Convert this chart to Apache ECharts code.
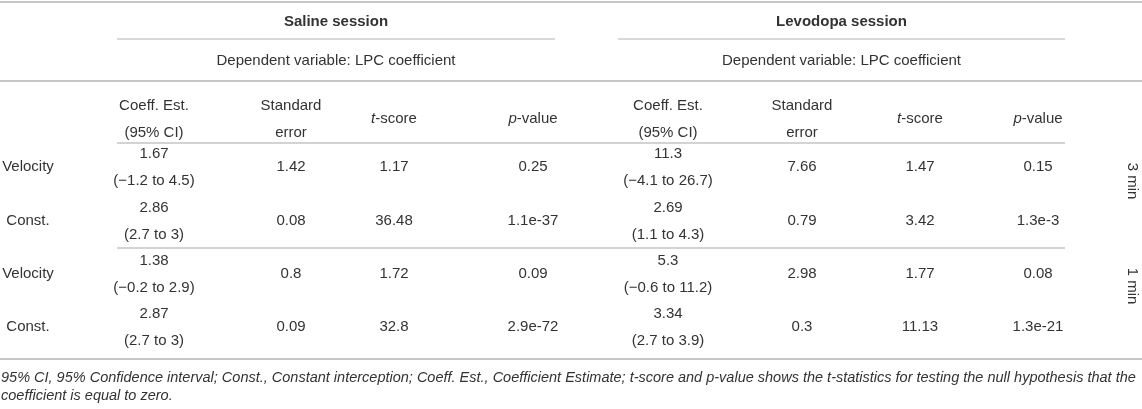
<!DOCTYPE html>
<html>
<head>
    <meta charset="utf-8">
    <title>LPC coefficient regression table</title>
    <script src="https://cdn.jsdelivr.net/npm/echarts@6/dist/echarts.min.js"></script>
    <style>
        body { margin: 0; background: #fff; }
    </style>
</head>
<body>

<div id='table' style="width: 1142px; height: 409px;"></div>
<script type="text/javascript">
    // ---- table content ----
    var sessions = ['Saline session', 'Levodopa session'];
    var depVar = 'Dependent variable: LPC coefficient';
    var colHeaders = [
        ['Coeff. Est.', '(95% CI)'],
        ['Standard', 'error'],
        ['{i|t}-score'],
        ['{i|p}-value']
    ];
    var rowLabels = ['Velocity', 'Const.', 'Velocity', 'Const.'];
    var windows = ['3 min', '1 min'];

    var salineCoef = ['1.67', '2.86', '1.38', '2.87'];
    var salineCI = ['(\u22121.2 to 4.5)', '(2.7 to 3)', '(\u22120.2 to 2.9)', '(2.7 to 3)'];
    var salineSE = ['1.42', '0.08', '0.8', '0.09'];
    var salineT = ['1.17', '36.48', '1.72', '32.8'];
    var salineP = ['0.25', '1.1e-37', '0.09', '2.9e-72'];

    var levoCoef = ['11.3', '2.69', '5.3', '3.34'];
    var levoCI = ['(\u22124.1 to 26.7)', '(1.1 to 4.3)', '(\u22120.6 to 11.2)', '(2.7 to 3.9)'];
    var levoSE = ['7.66', '0.79', '2.98', '0.3'];
    var levoT = ['1.47', '3.42', '1.77', '11.13'];
    var levoP = ['0.15', '1.3e-3', '0.08', '1.3e-21'];

    var footnote = [
        '95% CI, 95% Confidence interval; Const., Constant interception; Coeff. Est., Coefficient Estimate; t-score and p-value shows the t-statistics for testing the null hypothesis that the',
        'coefficient is equal to zero.'
    ];

    // ---- layout (axis units = pixels) ----
    var labelX = 28;
    var colX = [[154, 291, 394, 533], [668, 802, 920, 1038]];
    var groupSpan = [[117, 555], [618, 1065]];
    var rowMid = [167, 221, 274, 327];
    var subGap = 13.5;        // half distance between the two lines of a cell
    var windowX = 1132;
    var windowY = [181, 286];
    var sessionY = 22, depVarY = 61, headMid = 119;
    var footY = [378, 396];

    var FONT = '"Liberation Sans", Arial, Helvetica, sans-serif';
    var TXT = '#333';

    // ---- build text cells ----
    var cells = [];
    function cell(x, y, text, opt) {
        opt = opt || {};
        cells.push({
            x: x, y: y, text: text,
            align: opt.align || 'center',
            weight: opt.weight || 'normal',
            italic: !!opt.italic,
            size: opt.size || 15,
            rotate: opt.rotate || 0
        });
    }

    var blocks = [
        [salineCoef, salineCI, salineSE, salineT, salineP],
        [levoCoef, levoCI, levoSE, levoT, levoP]
    ];

    for (var g = 0; g < 2; g++) {
        var mid = (groupSpan[g][0] + groupSpan[g][1]) / 2;
        cell(mid, sessionY, sessions[g], {weight: 'bold'});
        cell(mid, depVarY, depVar);
        for (var c = 0; c < colHeaders.length; c++) {
            var h = colHeaders[c];
            if (h.length === 2) {
                cell(colX[g][c], headMid - subGap, h[0]);
                cell(colX[g][c], headMid + subGap, h[1]);
            } else {
                cell(colX[g][c], headMid, h[0]);
            }
        }
        var b = blocks[g];
        for (var r = 0; r < rowLabels.length; r++) {
            cell(colX[g][0], rowMid[r] - subGap, b[0][r]);
            cell(colX[g][0], rowMid[r] + subGap, b[1][r]);
            cell(colX[g][1], rowMid[r], b[2][r]);
            cell(colX[g][2], rowMid[r], b[3][r]);
            cell(colX[g][3], rowMid[r], b[4][r]);
        }
    }
    for (var r2 = 0; r2 < rowLabels.length; r2++) {
        cell(labelX, rowMid[r2], rowLabels[r2]);
    }
    for (var w = 0; w < windows.length; w++) {
        cell(windowX, windowY[w], windows[w], {rotate: -Math.PI / 2});
    }
    for (var f = 0; f < footnote.length; f++) {
        cell(1, footY[f], footnote[f], {align: 'left', italic: true, size: 14.5});
    }

    // ---- horizontal rules: [x1, y, x2, width, color] ----
    var rules = [
        [0, 2, 1142, 2, '#c6c6c6'],
        [groupSpan[0][0], 39, groupSpan[0][1], 1, '#b4b4b4'],
        [groupSpan[1][0], 39, groupSpan[1][1], 1, '#b4b4b4'],
        [0, 81, 1142, 2, '#c6c6c6'],
        [groupSpan[0][0], 143, groupSpan[1][1], 1.2, '#a8a8a8'],
        [groupSpan[0][0], 248, groupSpan[1][1], 1.2, '#a8a8a8'],
        [0, 359, 1142, 2, '#c6c6c6']
    ];

    var myTable = echarts.init(document.getElementById('table'));
    var option = {
        animation: false,
        grid: {left: 0, right: 0, top: 0, bottom: 0},
        xAxis: {type: 'value', min: 0, max: 1142, show: false},
        yAxis: {type: 'value', min: 0, max: 409, inverse: true, show: false},
        series: [
            {
                type: 'custom',
                name: 'rules',
                data: rules.map(function (d) { return [d[0], d[1], d[2]]; }),
                renderItem: function (params, api) {
                    var p1 = api.coord([api.value(0), api.value(1)]);
                    var p2 = api.coord([api.value(2), api.value(1)]);
                    var d = rules[params.dataIndex];
                    return {
                        type: 'line',
                        shape: {x1: p1[0], y1: p1[1], x2: p2[0], y2: p2[1]},
                        style: {stroke: d[4], lineWidth: d[3]}
                    };
                }
            },
            {
                type: 'custom',
                name: 'cells',
                data: cells.map(function (d) { return [d.x, d.y]; }),
                renderItem: function (params, api) {
                    var d = cells[params.dataIndex];
                    var p = api.coord([api.value(0), api.value(1)]);
                    return {
                        type: 'text',
                        x: p[0],
                        y: p[1],
                        rotation: d.rotate,
                        style: {
                            text: d.text,
                            fill: TXT,
                            align: d.align,
                            verticalAlign: 'middle',
                            fontSize: d.size,
                            fontFamily: FONT,
                            fontWeight: d.weight,
                            fontStyle: d.italic ? 'italic' : 'normal',
                            rich: {
                                i: {fontStyle: 'italic', fontSize: d.size, fontFamily: FONT, fill: TXT}
                            }
                        }
                    };
                }
            }
        ]
    };
    myTable.setOption(option);
</script>
</body>
</html>
